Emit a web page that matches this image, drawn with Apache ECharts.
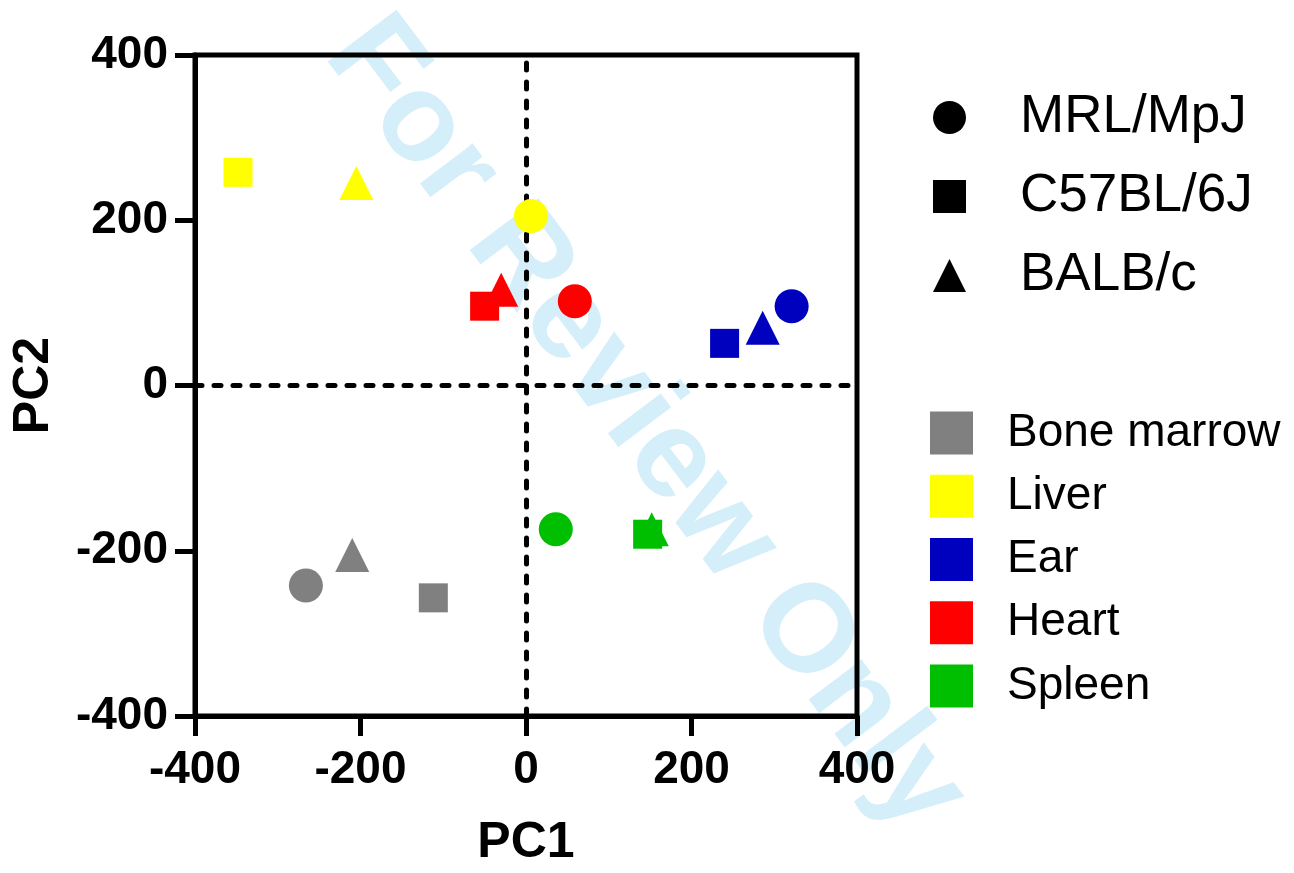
<!DOCTYPE html>
<html><head><meta charset="utf-8">
<script src="https://cdn.jsdelivr.net/npm/echarts@6/dist/echarts.min.js"></script>
<style>html,body{margin:0;padding:0;background:#fff}#c{width:1294px;height:873px}</style>
</head><body><div id="c"></div>
<script>
const tissues = ['Bone marrow', 'Liver', 'Ear', 'Heart', 'Spleen'];
const tissueColors = ['#808080', '#FFFF00', '#0000BF', '#FF0000', '#00BF00'];
const strains = ['MRL/MpJ', 'C57BL/6J', 'BALB/c'];
const strainSymbols = ['circle', 'rect', 'triangle'];
const strainSizes = [34, 29, 34];
// values per tissue, in strain order [MRL/MpJ, C57BL/6J, BALB/c]
const pc1 = {
  'Bone marrow': [-266, -112, -210],
  'Liver': [6, -348, -205],
  'Ear': [321, 240, 286],
  'Heart': [59, -50, -30],
  'Spleen': [36, 147, 152]
};
const pc2 = {
  'Bone marrow': [-242, -257, -205],
  'Liver': [205, 258, 245],
  'Ear': [96, 51, 70],
  'Heart': [102, 96, 116],
  'Spleen': [-174, -180, -174]
};
const xTicks = [-400, -200, 0, 200, 400];
const yTicks = [-400, -200, 0, 200, 400];

const font = '"Liberation Sans", Arial, Helvetica, sans-serif';
const chart = echarts.init(document.getElementById('c'), null, {renderer: 'canvas'});

const series = [];
tissues.forEach((t, i) => {
  series.push({
    name: t,
    type: 'scatter',
    z: 5,
    itemStyle: {color: tissueColors[i], opacity: 1},
    emphasis: {disabled: true},
    data: strains.map((s, j) => ({
      value: [pc1[t][j], pc2[t][j]],
      symbol: strainSymbols[j],
      symbolSize: strainSizes[j]
    }))
  });
});
strains.forEach((s, j) => {
  series.push({
    name: s,
    type: 'scatter',
    symbol: strainSymbols[j],
    itemStyle: {color: '#000000'},
    data: []
  });
});
// zero reference lines
series.push({
  type: 'line',
  data: [],
  silent: true,
  z: 3,
  markLine: {
    silent: true,
    symbol: 'none',
    label: {show: false},
    lineStyle: {color: '#000', width: 5, type: [7, 12], cap: 'round'},
    data: [{xAxis: 0}, {yAxis: 0}]
  }
});

chart.setOption({
  animation: false,
  backgroundColor: '#fff',
  grid: {left: 195, right: 437, top: 55, bottom: 154, show: true, borderColor: '#000', borderWidth: 5, backgroundColor: 'transparent', z: 4},
  xAxis: {
    type: 'value', min: xTicks[0], max: xTicks[xTicks.length - 1], interval: 200,
    name: 'PC1', nameLocation: 'middle', nameGap: 102,
    nameTextStyle: {fontFamily: font, fontWeight: 'bold', fontSize: 50, color: '#000'},
    axisLine: {show: true, onZero: false, lineStyle: {color: '#000', width: 5}},
    axisTick: {show: true, inside: false, length: 20, lineStyle: {color: '#000', width: 5}},
    axisLabel: {margin: 31, fontFamily: font, fontWeight: 'bold', fontSize: 46, color: '#000'},
    splitLine: {show: false}
  },
  yAxis: {
    type: 'value', min: yTicks[0], max: yTicks[yTicks.length - 1], interval: 200,
    name: 'PC2', nameLocation: 'middle', nameGap: 136,
    nameTextStyle: {fontFamily: font, fontWeight: 'bold', fontSize: 50, color: '#000'},
    axisLine: {show: true, onZero: false, lineStyle: {color: '#000', width: 5}},
    axisTick: {show: true, inside: false, length: 20, lineStyle: {color: '#000', width: 5}},
    axisLabel: {margin: 27, fontFamily: font, fontWeight: 'bold', fontSize: 46, color: '#000'},
    splitLine: {show: false}
  },
  legend: [
    {
      orient: 'vertical', left: 928, top: 86,
      itemWidth: 33, itemHeight: 33, itemGap: 26,
      selectedMode: false,
      data: strains.map((s, j) => ({name: s, icon: strainSymbols[j], itemStyle: {color: '#000000', opacity: 1}})),
      textStyle: {fontFamily: font, fontSize: 53, color: '#000', padding: [0, 0, 0, 49]}
    },
    {
      orient: 'vertical', left: 925, top: 405,
      itemWidth: 43, itemHeight: 43, itemGap: 17.25,
      selectedMode: false,
      data: tissues.map((t, i) => ({name: t, icon: 'rect', itemStyle: {color: tissueColors[i]}})),
      textStyle: {fontFamily: font, fontSize: 46, color: '#000', lineHeight: 43, padding: [0, 0, 0, 29]}
    }
  ],
  graphic: [{
    type: 'text',
    z: 0,
    silent: true,
    x: 645, y: 425,
    rotation: -53 * Math.PI / 180,
    style: {
      text: 'For Review Only',
      font: 'bold 125px ' + font,
      fill: '#d4eefa',
      textAlign: 'center',
      textVerticalAlign: 'middle'
    }
  }],
  series: series
});
</script></body></html>
